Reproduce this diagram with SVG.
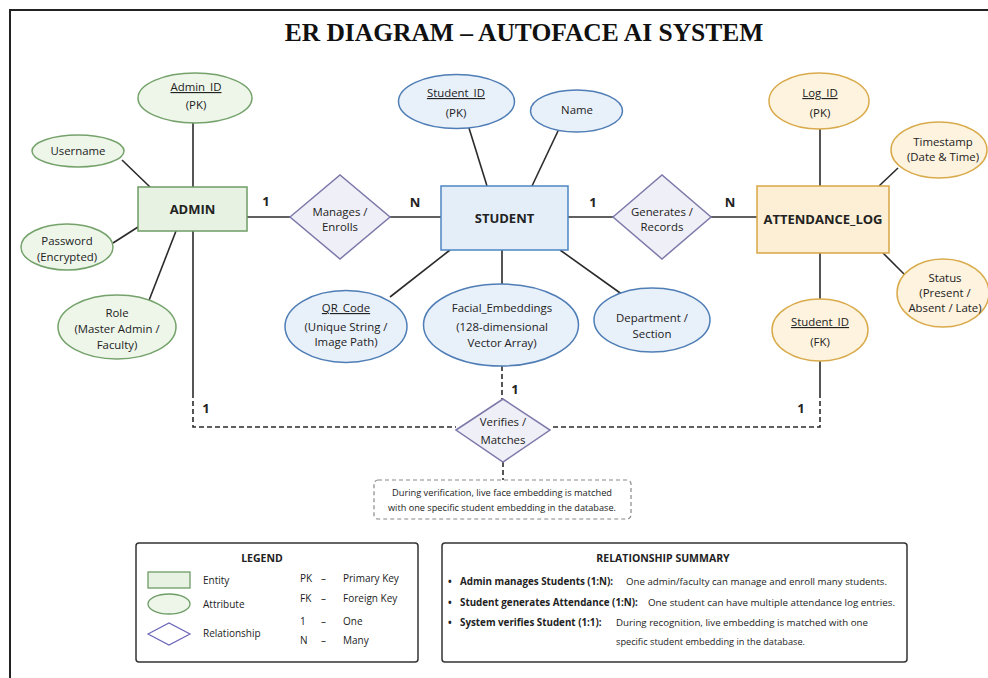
<svg xmlns="http://www.w3.org/2000/svg" width="988" height="678" viewBox="0 0 988 678">
<defs>
<style>
text{font-family:"Open Sans","Noto Sans","Liberation Sans",sans-serif;fill:#222;text-anchor:middle}
.t{font-size:11.4px}
.u{text-decoration:underline}
.ent{font-size:13px;font-weight:bold}
.card{font-size:13px;font-weight:bold}
.g{fill:#e7f2e2;stroke:#6e9c66;stroke-width:1.5}
.ga{fill:#eef6ea;stroke:#74a26a;stroke-width:1.5}
.b{fill:#e4eef9;stroke:#4e86c4;stroke-width:1.5}
.ba{fill:#e8f0fa;stroke:#4f7db5;stroke-width:1.5}
.y{fill:#fcefd5;stroke:#d8a644;stroke-width:1.5}
.ya{fill:#fdf3de;stroke:#d9ab4c;stroke-width:1.5}
.d{fill:#efeff7;stroke:#7d7aab;stroke-width:1.5}
.ln{stroke:#2b2b2b;stroke-width:1.6;fill:none}
.dl{stroke:#2b2b2b;stroke-width:1.6;fill:none;stroke-dasharray:5 3}
.box{fill:#fff;stroke:#333;stroke-width:1.5}
.lg{font-size:10px;text-anchor:start}
.sm{font-size:9.8px;text-anchor:start}
.smb{font-size:9.8px;text-anchor:start;font-weight:bold}
</style>
</defs>
<rect x="0" y="0" width="988" height="678" fill="#fff"/>
<path d="M10,678 V10 H988" fill="none" stroke="#222" stroke-width="2"/>
<text x="524" y="41" style="font-family:'Liberation Serif','Times New Roman',serif;font-size:25.5px;font-weight:bold;fill:#111">ER DIAGRAM – AUTOFACE AI SYSTEM</text>

<g id="connectors">
<line class="ln" x1="193" y1="123" x2="193" y2="187"/>
<line class="ln" x1="122" y1="160" x2="150" y2="187"/>
<line class="ln" x1="113" y1="243" x2="138" y2="227"/>
<line class="ln" x1="148" y1="303" x2="176" y2="231"/>
<line class="ln" x1="247" y1="217" x2="290" y2="217"/>
<line class="ln" x1="390" y1="217" x2="441" y2="217"/>
<line class="ln" x1="568" y1="217" x2="613" y2="217"/>
<line class="ln" x1="710" y1="217" x2="757" y2="217"/>
<line class="ln" x1="469" y1="128" x2="487" y2="186"/>
<line class="ln" x1="558" y1="131" x2="532" y2="186"/>
<line class="ln" x1="390" y1="297" x2="450" y2="250"/>
<line class="ln" x1="502" y1="250" x2="502" y2="284"/>
<line class="ln" x1="560" y1="250" x2="623" y2="295"/>
<line class="ln" x1="820" y1="129" x2="820" y2="186"/>
<line class="ln" x1="898" y1="168" x2="879" y2="186"/>
<line class="ln" x1="883" y1="253" x2="907" y2="277"/>
<line class="ln" x1="820" y1="253" x2="820" y2="299"/>
<line class="ln" x1="193" y1="231" x2="193" y2="393"/>
<path class="dl" d="M193,393 V427 H456"/>
<line class="ln" x1="820" y1="361" x2="820" y2="393"/>
<path class="dl" d="M820,393 V427 H550"/>
<line class="dl" x1="502" y1="366" x2="502" y2="399"/>
<line class="dl" x1="503" y1="462" x2="503" y2="480"/>
<text class="card" x="266" y="206">1</text>
<text class="card" x="415" y="207">N</text>
<text class="card" x="593" y="207">1</text>
<text class="card" x="730" y="207">N</text>
<text class="card" x="515" y="394">1</text>
<text class="card" x="206" y="413">1</text>
<text class="card" x="801" y="413">1</text>
</g>

<g id="admin">
<rect class="g" x="138" y="187" width="109" height="44"/>
<text class="ent" x="192.5" y="214">ADMIN</text>
</g>
<g id="admin_id">
<ellipse class="ga" cx="195" cy="98" rx="57" ry="25"/>
<text class="t u" x="196" y="91">Admin_ID</text>
<text class="t" x="196" y="109">(PK)</text>
</g>
<g id="username">
<ellipse class="ga" cx="78" cy="151" rx="46" ry="16"/>
<text class="t" x="78" y="155">Username</text>
</g>
<g id="password">
<ellipse class="ga" cx="67" cy="247" rx="46" ry="23"/>
<text class="t" x="67" y="245">Password</text>
<text class="t" x="67" y="261">(Encrypted)</text>
</g>
<g id="role">
<ellipse class="ga" cx="117" cy="327" rx="59" ry="32"/>
<text class="t" x="117" y="317">Role</text>
<text class="t" x="117" y="333">(Master Admin /</text>
<text class="t" x="117" y="349">Faculty)</text>
</g>

<g id="manages">
<polygon class="d" points="290,217 340,175 390,217 340,259"/>
<text class="t" x="340" y="216">Manages /</text>
<text class="t" x="340" y="231">Enrolls</text>
</g>

<g id="student">
<rect class="b" x="441" y="186" width="127" height="64"/>
<text class="ent" x="504.5" y="223">STUDENT</text>
</g>
<g id="student_id">
<ellipse class="ba" cx="456.5" cy="101.5" rx="58" ry="27"/>
<text class="t u" x="456" y="97">Student_ID</text>
<text class="t" x="456" y="117">(PK)</text>
</g>
<g id="name">
<ellipse class="ba" cx="576.5" cy="111" rx="46" ry="21"/>
<text class="t" x="577" y="114">Name</text>
</g>
<g id="qr_code">
<ellipse class="ba" cx="346" cy="326.5" rx="61" ry="36"/>
<text class="t u" x="346" y="312">QR_Code</text>
<text class="t" x="346" y="331">(Unique String /</text>
<text class="t" x="346" y="346">Image Path)</text>
</g>
<g id="facial_embeddings">
<ellipse class="ba" cx="501" cy="325" rx="77.5" ry="41"/>
<text class="t" x="502" y="312">Facial_Embeddings</text>
<text class="t" x="502" y="331">(128-dimensional</text>
<text class="t" x="502" y="347">Vector Array)</text>
</g>
<g id="department">
<ellipse class="ba" cx="652" cy="320" rx="58" ry="32"/>
<text class="t" x="652" y="322">Department /</text>
<text class="t" x="652" y="338">Section</text>
</g>

<g id="generates">
<polygon class="d" points="613,217 662,175 711,217 662,259"/>
<text class="t" x="662" y="216">Generates /</text>
<text class="t" x="662" y="231">Records</text>
</g>

<g id="attendance_log">
<rect class="y" x="757" y="186" width="132" height="67"/>
<text class="ent" x="823" y="224">ATTENDANCE_LOG</text>
</g>
<g id="log_id">
<ellipse class="ya" cx="819" cy="101" rx="50" ry="28"/>
<text class="t u" x="820" y="97">Log_ID</text>
<text class="t" x="820" y="117">(PK)</text>
</g>
<g id="timestamp">
<ellipse class="ya" cx="939" cy="150" rx="48" ry="28"/>
<text class="t" x="943" y="146">Timestamp</text>
<text class="t" x="943" y="161">(Date &amp; Time)</text>
</g>
<g id="status">
<ellipse class="ya" cx="943" cy="293" rx="46" ry="34"/>
<text class="t" x="945" y="282">Status</text>
<text class="t" x="945" y="297">(Present /</text>
<text class="t" x="945" y="312">Absent / Late)</text>
</g>
<g id="fk_student_id">
<ellipse class="ya" cx="820" cy="330" rx="48" ry="31"/>
<text class="t u" x="820" y="326">Student_ID</text>
<text class="t" x="820" y="346">(FK)</text>
</g>

<g id="verifies">
<polygon class="d" points="456,430 503,399 550,430 503,462"/>
<text class="t" x="503" y="426">Verifies /</text>
<text class="t" x="503" y="444">Matches</text>
</g>
<g id="note">
<rect x="374" y="480" width="257" height="39" rx="4" fill="#fff" stroke="#888" stroke-width="1.2" stroke-dasharray="4 3"/>
<text x="502" y="496" style="font-size:9.8px" textLength="220" lengthAdjust="spacingAndGlyphs">During verification, live face embedding is matched</text>
<text x="502" y="511" style="font-size:9.8px" textLength="228" lengthAdjust="spacingAndGlyphs">with one specific student embedding in the database.</text>
</g>

<g id="legend">
<rect class="box" x="136" y="543" width="282" height="119" rx="3"/>
<text x="262" y="562" style="font-size:10.5px;font-weight:bold">LEGEND</text>
<rect x="148" y="572" width="42" height="16" fill="#e7f2e2" stroke="#6e9c66" stroke-width="1.3"/>
<text class="lg" x="203" y="584">Entity</text>
<ellipse cx="169" cy="604" rx="21" ry="10" fill="#eef6ea" stroke="#6e9c66" stroke-width="1.3"/>
<text class="lg" x="203" y="608">Attribute</text>
<polygon points="148,634 169,623 190,634 169,645" fill="#fff" stroke="#6b66b8" stroke-width="1.2"/>
<text class="lg" x="203" y="637">Relationship</text>
<text class="lg" x="300" y="582">PK</text><text class="lg" x="321" y="582">–</text><text class="lg" x="343" y="582">Primary Key</text>
<text class="lg" x="300" y="602">FK</text><text class="lg" x="321" y="602">–</text><text class="lg" x="343" y="602">Foreign Key</text>
<text class="lg" x="300" y="625">1</text><text class="lg" x="321" y="625">–</text><text class="lg" x="343" y="625">One</text>
<text class="lg" x="300" y="644">N</text><text class="lg" x="321" y="644">–</text><text class="lg" x="343" y="644">Many</text>
</g>

<g id="summary">
<rect class="box" x="442" y="543" width="465" height="119" rx="3"/>
<text x="663" y="562" style="font-size:10.5px;font-weight:bold">RELATIONSHIP SUMMARY</text>
<text class="smb" x="448" y="585">•</text>
<text class="smb" x="460" y="585">Admin manages Students (1:N):</text>
<text class="sm" x="626" y="585" textLength="261" lengthAdjust="spacingAndGlyphs">One admin/faculty can manage and enroll many students.</text>
<text class="smb" x="448" y="606">•</text>
<text class="smb" x="460" y="606">Student generates Attendance (1:N):</text>
<text class="sm" x="648" y="606" textLength="247" lengthAdjust="spacingAndGlyphs">One student can have multiple attendance log entries.</text>
<text class="smb" x="448" y="626">•</text>
<text class="smb" x="460" y="626">System verifies Student (1:1):</text>
<text class="sm" x="616" y="626" textLength="252" lengthAdjust="spacingAndGlyphs">During recognition, live embedding is matched with one</text>
<text class="sm" x="616" y="645" textLength="189" lengthAdjust="spacingAndGlyphs">specific student embedding in the database.</text>
</g>
</svg>
